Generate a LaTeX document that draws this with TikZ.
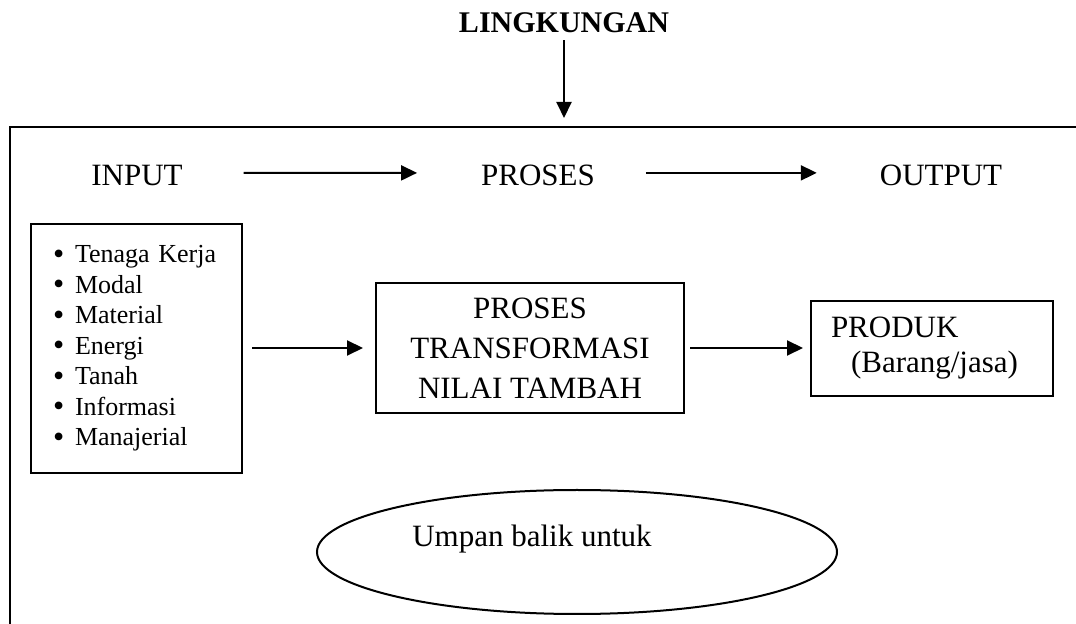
\documentclass[tikz,border=0pt]{standalone}
\usepackage{fontspec}
\setmainfont{Liberation Serif}
\usetikzlibrary{arrows.meta,shapes.geometric,positioning}

\tikzset{
    arr/.style={-{Triangle[length=8pt,width=7.5pt]}, line width=1pt},
    box/.style={draw, line width=1pt, anchor=north west, inner sep=0pt},
    lbl/.style={font=\fontsize{15.5}{20}\selectfont},
}
\newcommand\itm[1]{\makebox[11pt][l]{\raisebox{-0.6pt}{\fontsize{16}{0}\selectfont\textbullet}}#1}

\begin{document}
\begin{tikzpicture}[x=0.5pt, y=-0.5pt]
    \useasboundingbox (0,0) rectangle (1076,624);

    % frame, only top and left side
    \coordinate (ftop) at (10,127);
    \draw[line width=1.3pt] (1076,127) -- (ftop) -- (10,624);

    \node[font=\bfseries\fontsize{15}{18}\selectfont, anchor=base] (env) at (564,33) {LINGKUNGAN};
    \draw[arr, shorten >=4.5pt] (env) -- (env |- ftop);

    % stages
    \node[lbl, anchor=base] (in) at (137,186) {INPUT};
    \node[lbl, anchor=base] (proc) at (538,186) {PROSES};
    \node[lbl, anchor=base] (out) at (941,186) {OUTPUT};
    \draw[arr, shorten <=27pt, shorten >=28.5pt] ([yshift=1.5pt]in.east) -- ([yshift=1.5pt]proc.west);
    \draw[arr, shorten <=22pt, shorten >=28pt] ([yshift=1.5pt]proc.east) -- ([yshift=1.5pt]out.west);

    % boxes
    \node[box, minimum width=105.5pt, minimum height=124.5pt, text width=83.5pt, inner xsep=11pt,
          align=left, font=\fontsize{13}{15.25}\selectfont] (inbox) at (30,223)
        {\itm{Tenaga Kerja}\\\itm{Modal}\\\itm{Material}\\\itm{Energi}\\\itm{Tanah}\\\itm{Informasi}\\\itm{Manajerial}};
    \node[box, lbl, minimum width=154pt, minimum height=65pt, align=center] (procbox) at (375,282)
        {PROSES\\TRANSFORMASI\\NILAI TAMBAH};
    \node[box, font=\fontsize{15.5}{17.5}\selectfont, text width=101pt, inner xsep=10pt, minimum height=47.5pt,
          align=left] (prodbox) at (810,300)
        {PRODUK\\\hspace*{10pt}(Barang/jasa)};

    \draw[arr, shorten <=4.5pt, shorten >=6pt] (inbox.east |- procbox.west) -- (procbox.west);
    \draw[arr, shorten <=2.5pt, shorten >=3.5pt] (procbox.east) -- (procbox.east -| prodbox.west);

    % feedback
    \node[draw, ellipse, line width=1pt, minimum width=260pt, minimum height=62pt] (fb) at (577,552) {};
    \node[lbl, anchor=base] (fbtxt) at ([xshift=-22.5pt, yshift=2.5pt]fb.center) {Umpan balik untuk};
\end{tikzpicture}
\end{document}
